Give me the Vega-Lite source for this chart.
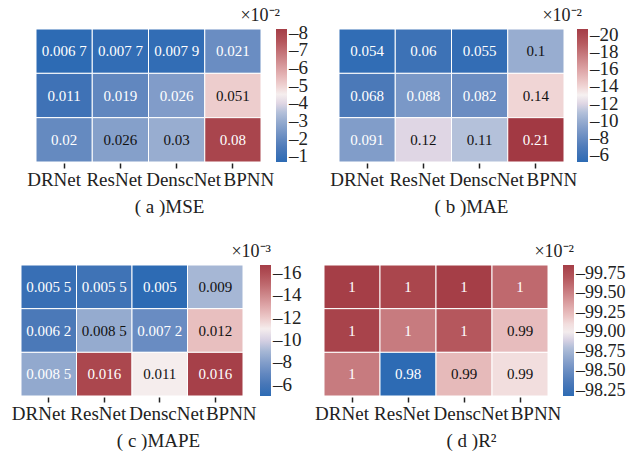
{
  "$schema": "https://vega.github.io/schema/vega-lite/v6.json",
  "background": "white",
  "padding": {"left": 11, "top": 6, "right": 0, "bottom": 5},
  "spacing": 26,
  "vconcat": [
    {
      "hconcat": [
        {
          "title": {"text": "×10⁻²", "dx": 19},
          "width": 240, "height": 133,
          "data": {"values": [
            {"model": "DRNet", "row": 0, "value": 0.0067, "label": "0.006 7"},
            {"model": "ResNet", "row": 0, "value": 0.0077, "label": "0.007 7"},
            {"model": "DenscNet", "row": 0, "value": 0.0079, "label": "0.007 9"},
            {"model": "BPNN", "row": 0, "value": 0.021, "label": "0.021"},
            {"model": "DRNet", "row": 1, "value": 0.011, "label": "0.011"},
            {"model": "ResNet", "row": 1, "value": 0.019, "label": "0.019"},
            {"model": "DenscNet", "row": 1, "value": 0.0255, "label": "0.026"},
            {"model": "BPNN", "row": 1, "value": 0.051, "label": "0.051"},
            {"model": "DRNet", "row": 2, "value": 0.020, "label": "0.02"},
            {"model": "ResNet", "row": 2, "value": 0.0264, "label": "0.026"},
            {"model": "DenscNet", "row": 2, "value": 0.030, "label": "0.03"},
            {"model": "BPNN", "row": 2, "value": 0.080, "label": "0.08"}
          ]},
          "encoding": {
            "x": {"field": "model", "type": "nominal", "sort": ["DRNet", "ResNet", "DenscNet", "BPNN"], "scale": {"range": [15, 240]}, "axis": {"title": "( a )MSE", "titleX": 148}},
            "y": {"field": "row", "type": "ordinal", "axis": null}
          },
          "layer": [
            {"mark": {"type": "rect", "stroke": "white", "strokeWidth": 1},
             "encoding": {"color": {"field": "value", "type": "quantitative",
               "scale": {"domain": [0.0067, 0.082], "nice": false, "range": ["#2d6bb4", "#4a78b8", "#6d8fc3", "#94aacf", "#bfc9de", "#f6f2f2", "#ecc8c8", "#dca2a4", "#c87c80", "#b5575d", "#a53e47"]},
               "legend": {"values": [0.01, 0.02, 0.03, 0.04, 0.05, 0.06, 0.07, 0.08], "labelExpr": "'–' + format(datum.value*100, 'd')", "offset": 15}}}},
            {"mark": {"type": "text", "font": "Liberation Serif", "fontSize": 15},
             "encoding": {"text": {"field": "label"},
               "color": {"condition": {"test": "datum.value > 0.026 && datum.value < 0.07", "value": "#111111"}, "value": "#ffffff"}}}
          ]
        },
        {
          "title": {"text": "×10⁻²", "dx": 18},
          "width": 225, "height": 133,
          "data": {"values": [
            {"model": "DRNet", "row": 0, "value": 0.054, "label": "0.054"},
            {"model": "ResNet", "row": 0, "value": 0.060, "label": "0.06"},
            {"model": "DenscNet", "row": 0, "value": 0.055, "label": "0.055"},
            {"model": "BPNN", "row": 0, "value": 0.100, "label": "0.1"},
            {"model": "DRNet", "row": 1, "value": 0.068, "label": "0.068"},
            {"model": "ResNet", "row": 1, "value": 0.088, "label": "0.088"},
            {"model": "DenscNet", "row": 1, "value": 0.082, "label": "0.082"},
            {"model": "BPNN", "row": 1, "value": 0.140, "label": "0.14"},
            {"model": "DRNet", "row": 2, "value": 0.091, "label": "0.091"},
            {"model": "ResNet", "row": 2, "value": 0.120, "label": "0.12"},
            {"model": "DenscNet", "row": 2, "value": 0.110, "label": "0.11"},
            {"model": "BPNN", "row": 2, "value": 0.210, "label": "0.21"}
          ]},
          "encoding": {
            "x": {"field": "model", "type": "nominal", "sort": ["DRNet", "ResNet", "DenscNet", "BPNN"], "axis": {"title": "( b )MAE", "titleX": 132}},
            "y": {"field": "row", "type": "ordinal", "axis": null}
          },
          "layer": [
            {"mark": {"type": "rect", "stroke": "white", "strokeWidth": 1},
             "encoding": {"color": {"field": "value", "type": "quantitative",
               "scale": {"domain": [0.052, 0.207], "nice": false, "range": ["#2d6bb4", "#4a78b8", "#6d8fc3", "#94aacf", "#bfc9de", "#f6f2f2", "#ecc8c8", "#dca2a4", "#c87c80", "#b5575d", "#a53e47"]},
               "legend": {"values": [0.06, 0.08, 0.10, 0.12, 0.14, 0.16, 0.18, 0.20], "labelExpr": "'–' + format(datum.value*100, 'd')", "offset": 13}}}},
            {"mark": {"type": "text", "font": "Liberation Serif", "fontSize": 15},
             "encoding": {"text": {"field": "label"},
               "color": {"condition": {"test": "datum.value > 0.095 && datum.value < 0.19", "value": "#111111"}, "value": "#ffffff"}}}
          ]
        }
      ],
      "spacing": 21,
      "resolve": {"scale": {"color": "independent"}, "legend": {"color": "independent"}}
    },
    {
      "hconcat": [
        {
          "title": {"text": "×10⁻³", "dx": 28},
          "width": 222, "height": 131,
          "data": {"values": [
            {"model": "DRNet", "row": 0, "value": 0.0054, "label": "0.005 5"},
            {"model": "ResNet", "row": 0, "value": 0.0057, "label": "0.005 5"},
            {"model": "DenscNet", "row": 0, "value": 0.0050, "label": "0.005"},
            {"model": "BPNN", "row": 0, "value": 0.0090, "label": "0.009"},
            {"model": "DRNet", "row": 1, "value": 0.0062, "label": "0.006 2"},
            {"model": "ResNet", "row": 1, "value": 0.00854, "label": "0.008 5"},
            {"model": "DenscNet", "row": 1, "value": 0.0072, "label": "0.007 2"},
            {"model": "BPNN", "row": 1, "value": 0.0123, "label": "0.012"},
            {"model": "DRNet", "row": 2, "value": 0.00846, "label": "0.008 5"},
            {"model": "ResNet", "row": 2, "value": 0.0163, "label": "0.016"},
            {"model": "DenscNet", "row": 2, "value": 0.0110, "label": "0.011"},
            {"model": "BPNN", "row": 2, "value": 0.0166, "label": "0.016"}
          ]},
          "encoding": {
            "x": {"field": "model", "type": "nominal", "sort": ["DRNet", "ResNet", "DenscNet", "BPNN"], "axis": {"title": "( c )MAPE", "titleX": 137}},
            "y": {"field": "row", "type": "ordinal", "axis": null}
          },
          "layer": [
            {"mark": {"type": "rect", "stroke": "white", "strokeWidth": 1},
             "encoding": {"color": {"field": "value", "type": "quantitative",
               "scale": {"domain": [0.0050, 0.0167], "nice": false, "range": ["#2d6bb4", "#4a78b8", "#6d8fc3", "#94aacf", "#bfc9de", "#f6f2f2", "#ecc8c8", "#dca2a4", "#c87c80", "#b5575d", "#a53e47"]},
               "legend": {"values": [0.006, 0.008, 0.010, 0.012, 0.014, 0.016], "labelExpr": "'–' + format(datum.value*1000, 'd')", "offset": 17, "gradientLength": 131}}}},
            {"mark": {"type": "text", "font": "Liberation Serif", "fontSize": 15},
             "encoding": {"text": {"field": "label"},
               "color": {"condition": {"test": "datum.value > 0.0085 && datum.value < 0.0145", "value": "#111111"}, "value": "#ffffff"}}}
          ]
        },
        {
          "title": {"text": "×10⁻²", "dx": 26},
          "width": 224, "height": 131,
          "data": {"values": [
            {"model": "DRNet", "row": 0, "value": 0.9986, "label": "1"},
            {"model": "ResNet", "row": 0, "value": 0.9981, "label": "1"},
            {"model": "DenscNet", "row": 0, "value": 0.9986, "label": "1"},
            {"model": "BPNN", "row": 0, "value": 0.9961, "label": "1"},
            {"model": "DRNet", "row": 1, "value": 0.9983, "label": "1"},
            {"model": "ResNet", "row": 1, "value": 0.9953, "label": "1"},
            {"model": "DenscNet", "row": 1, "value": 0.9969, "label": "1"},
            {"model": "BPNN", "row": 1, "value": 0.9924, "label": "0.99"},
            {"model": "DRNet", "row": 2, "value": 0.9953, "label": "1"},
            {"model": "ResNet", "row": 2, "value": 0.9818, "label": "0.98"},
            {"model": "DenscNet", "row": 2, "value": 0.9925, "label": "0.99"},
            {"model": "BPNN", "row": 2, "value": 0.9910, "label": "0.99"}
          ]},
          "encoding": {
            "x": {"field": "model", "type": "nominal", "sort": ["DRNet", "ResNet", "DenscNet", "BPNN"], "axis": {"title": "( d )R²", "titleX": 147}},
            "y": {"field": "row", "type": "ordinal", "axis": null}
          },
          "layer": [
            {"mark": {"type": "rect", "stroke": "white", "strokeWidth": 1},
             "encoding": {"color": {"field": "value", "type": "quantitative",
               "scale": {"domain": [0.9818, 0.9986], "nice": false, "range": ["#2d6bb4", "#4a78b8", "#6d8fc3", "#94aacf", "#bfc9de", "#f6f2f2", "#ecc8c8", "#dca2a4", "#c87c80", "#b5575d", "#a53e47"]},
               "legend": {"values": [0.9825, 0.985, 0.9875, 0.99, 0.9925, 0.995, 0.9975], "labelExpr": "'–' + format(datum.value*100, '.2f')", "offset": 15, "gradientLength": 131, "labelFontSize": 18}}}},
            {"mark": {"type": "text", "font": "Liberation Serif", "fontSize": 15},
             "encoding": {"text": {"field": "label"},
               "color": {"condition": {"test": "datum.value > 0.985 && datum.value < 0.994", "value": "#111111"}, "value": "#ffffff"}}}
          ]
        }
      ],
      "spacing": 12,
      "resolve": {"scale": {"color": "independent"}, "legend": {"color": "independent"}}
    }
  ],
  "config": {
    "view": {"stroke": null},
    "font": "Liberation Serif",
    "title": {"font": "Liberation Serif", "fontSize": 18, "fontWeight": "normal", "anchor": "end", "frame": "group", "offset": 4, "color": "#222222"},
    "axisX": {
      "labelFont": "Liberation Serif", "labelFontSize": 19, "labelColor": "#222222", "labelAngle": 0,
      "labelOffset": {"condition": [{"test": "datum.value === 'DRNet'", "value": -10}, {"test": "datum.value === 'ResNet'", "value": -6}, {"test": "datum.value === 'DenscNet'", "value": 7}, {"test": "datum.value === 'BPNN'", "value": 16}], "value": 0},
      "labelPadding": 2, "tickSize": 5, "tickColor": "#222222", "tickWidth": 1.5, "domain": false, "grid": false,
      "titleFont": "Liberation Serif", "titleFontSize": 19, "titleFontWeight": "normal", "titleColor": "#222222", "titlePadding": 8, "offset": 1
    },
    "legend": {
      "orient": "right", "direction": "vertical", "title": null, "offset": 15,
      "gradientLength": 133, "gradientThickness": 11, "gradientStrokeWidth": 0,
      "labelFont": "Liberation Serif", "labelFontSize": 19, "labelColor": "#222222", "labelOffset": 0, "labelOverlap": false
    }
  }
}
